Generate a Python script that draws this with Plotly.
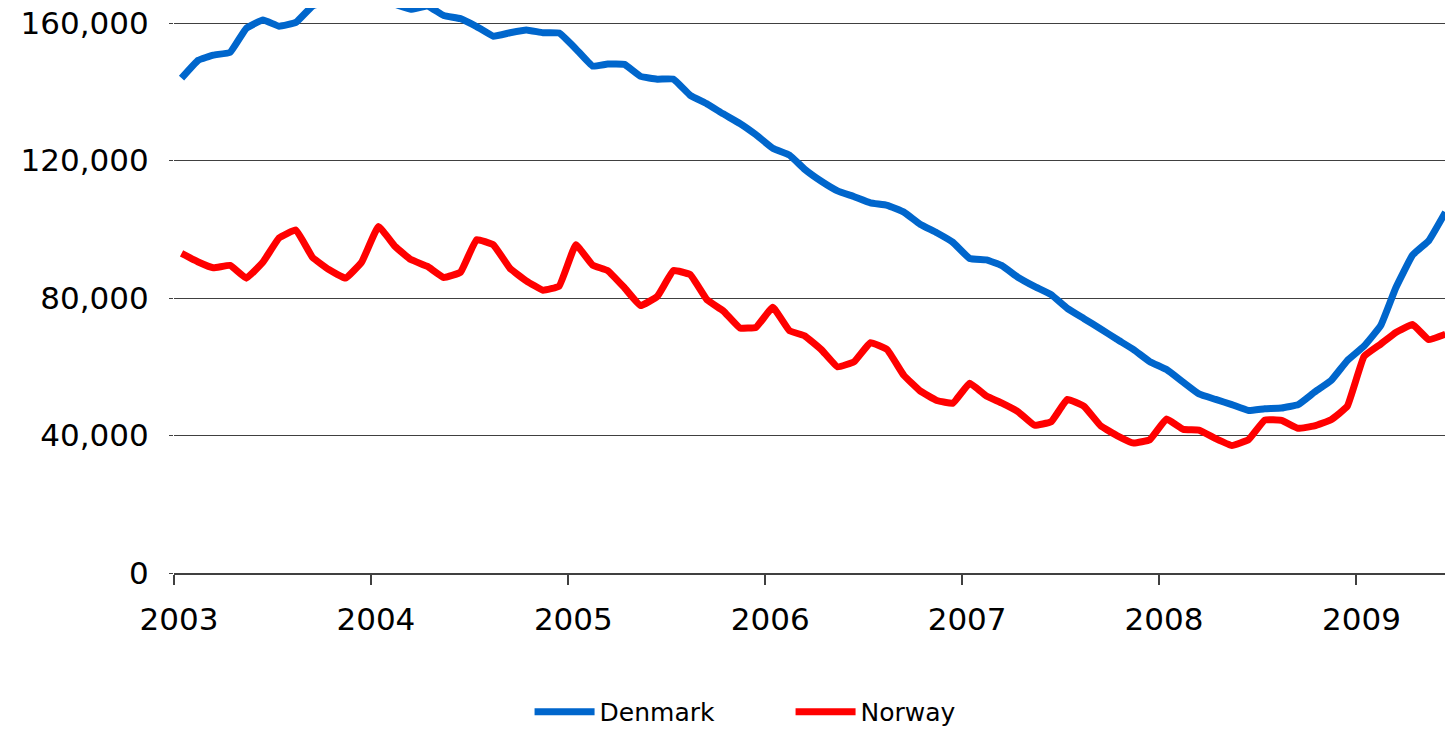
import plotly.graph_objects as go

# Monthly observations, Jan 2003 - Jun 2009 (plotted mid-month)
start_year = 2003
n_months = 78
months = [f"{start_year + m // 12}-{m % 12 + 1:02d}-15" for m in range(n_months)]

denmark = [
    144.0, 149.2, 150.7, 151.5, 158.5, 160.9, 159.1, 160.2, 165.0, 166.5,
    168.0, 169.0, 168.0, 165.5, 164.0, 165.0, 162.2, 161.3, 159.0, 156.2,
    157.2, 158.0, 157.2, 157.1, 152.5, 147.5, 148.1, 148.0, 144.5, 143.7,
    143.7, 139.0, 136.5, 133.6, 130.8, 127.5, 123.6, 121.6, 117.5, 114.0,
    111.2, 109.5, 107.7, 107.0, 105.0, 101.5, 99.0, 96.2, 91.5, 91.1,
    89.5, 86.0, 83.4, 81.0, 77.0, 74.0, 71.0, 68.0, 65.0, 61.5,
    59.2, 55.5, 52.1, 50.5, 49.0, 47.3, 47.8, 48.0, 49.0, 52.6,
    56.0, 61.8, 66.0, 72.0, 83.0, 92.5, 96.7, 105.0,
]

norway = [
    93.0, 90.5, 88.8, 89.5, 85.8, 90.5, 97.5, 99.8, 91.8, 88.3,
    85.8, 90.5, 100.8, 95.0, 91.2, 89.2, 86.0, 87.5, 97.0, 95.5,
    88.6, 85.0, 82.3, 83.5, 95.5, 89.6, 88.0, 83.0, 77.8, 80.5,
    88.0, 86.8, 79.5, 76.3, 71.3, 71.5, 77.3, 70.5, 69.0, 65.0,
    60.0, 61.5, 67.0, 65.0, 57.5, 53.0, 50.2, 49.4, 55.2, 51.5,
    49.5, 46.9, 43.0, 44.0, 50.5, 48.5, 42.8, 40.0, 37.8, 38.8,
    44.8, 41.8, 41.6, 39.1, 37.1, 38.8, 44.5, 44.4, 42.1, 42.8,
    44.6, 48.5, 63.0, 66.6, 70.0, 72.3, 67.9, 69.5,
]

y_ticks = [0, 40000, 80000, 120000, 160000]

fig = go.Figure()
fig.add_trace(go.Scatter(
    x=months, y=[v * 1000 for v in denmark], name="Denmark", mode="lines",
    line=dict(color="#0066CC", width=7, shape="spline", smoothing=0.3),
))
fig.add_trace(go.Scatter(
    x=months, y=[v * 1000 for v in norway], name="Norway", mode="lines",
    line=dict(color="#FF0000", width=7, shape="spline", smoothing=0.3),
))

font_family = "DejaVu Sans"
fig.update_layout(
    width=1445, height=724,
    margin=dict(l=166, r=0, t=0, b=159, autoexpand=False),
    paper_bgcolor="white", plot_bgcolor="white",
    font=dict(family=font_family, size=31, color="black"),
    showlegend=True,
    legend=dict(
        orientation="h", x=0.278, xanchor="left", y=-0.246, yanchor="middle",
        font=dict(family=font_family, size=25, color="black"),
        entrywidth=186, entrywidthmode="pixels",
        itemwidth=60, traceorder="normal",
    ),
    xaxis=dict(
        type="date", range=["2003-01-01", "2009-06-29"],
        tick0="2003-01-01", dtick="M12", tickformat="%Y",
        showgrid=False, showline=True, linecolor="#404040", linewidth=1.5,
        ticks="outside", ticklen=10, tickcolor="#404040", tickwidth=1.5,
        ticklabelstandoff=8, ticklabelshift=5, automargin=False,
        ticklabeloverflow="allow",
        tickfont=dict(family=font_family, size=31, color="black"),
        zeroline=False,
    ),
    yaxis=dict(
        range=[0, 164400], tickvals=y_ticks,
        tickformat=",d", automargin=False,
        showgrid=True, gridcolor="#404040", gridwidth=1,
        showline=False, zeroline=False,
        ticks="outside", ticklen=4, tickcolor="#404040",
        ticklabelstandoff=14, ticklabeloverflow="allow",
        tickfont=dict(family=font_family, size=31, color="black"),
    ),
)

fig.write_html("out.html")
